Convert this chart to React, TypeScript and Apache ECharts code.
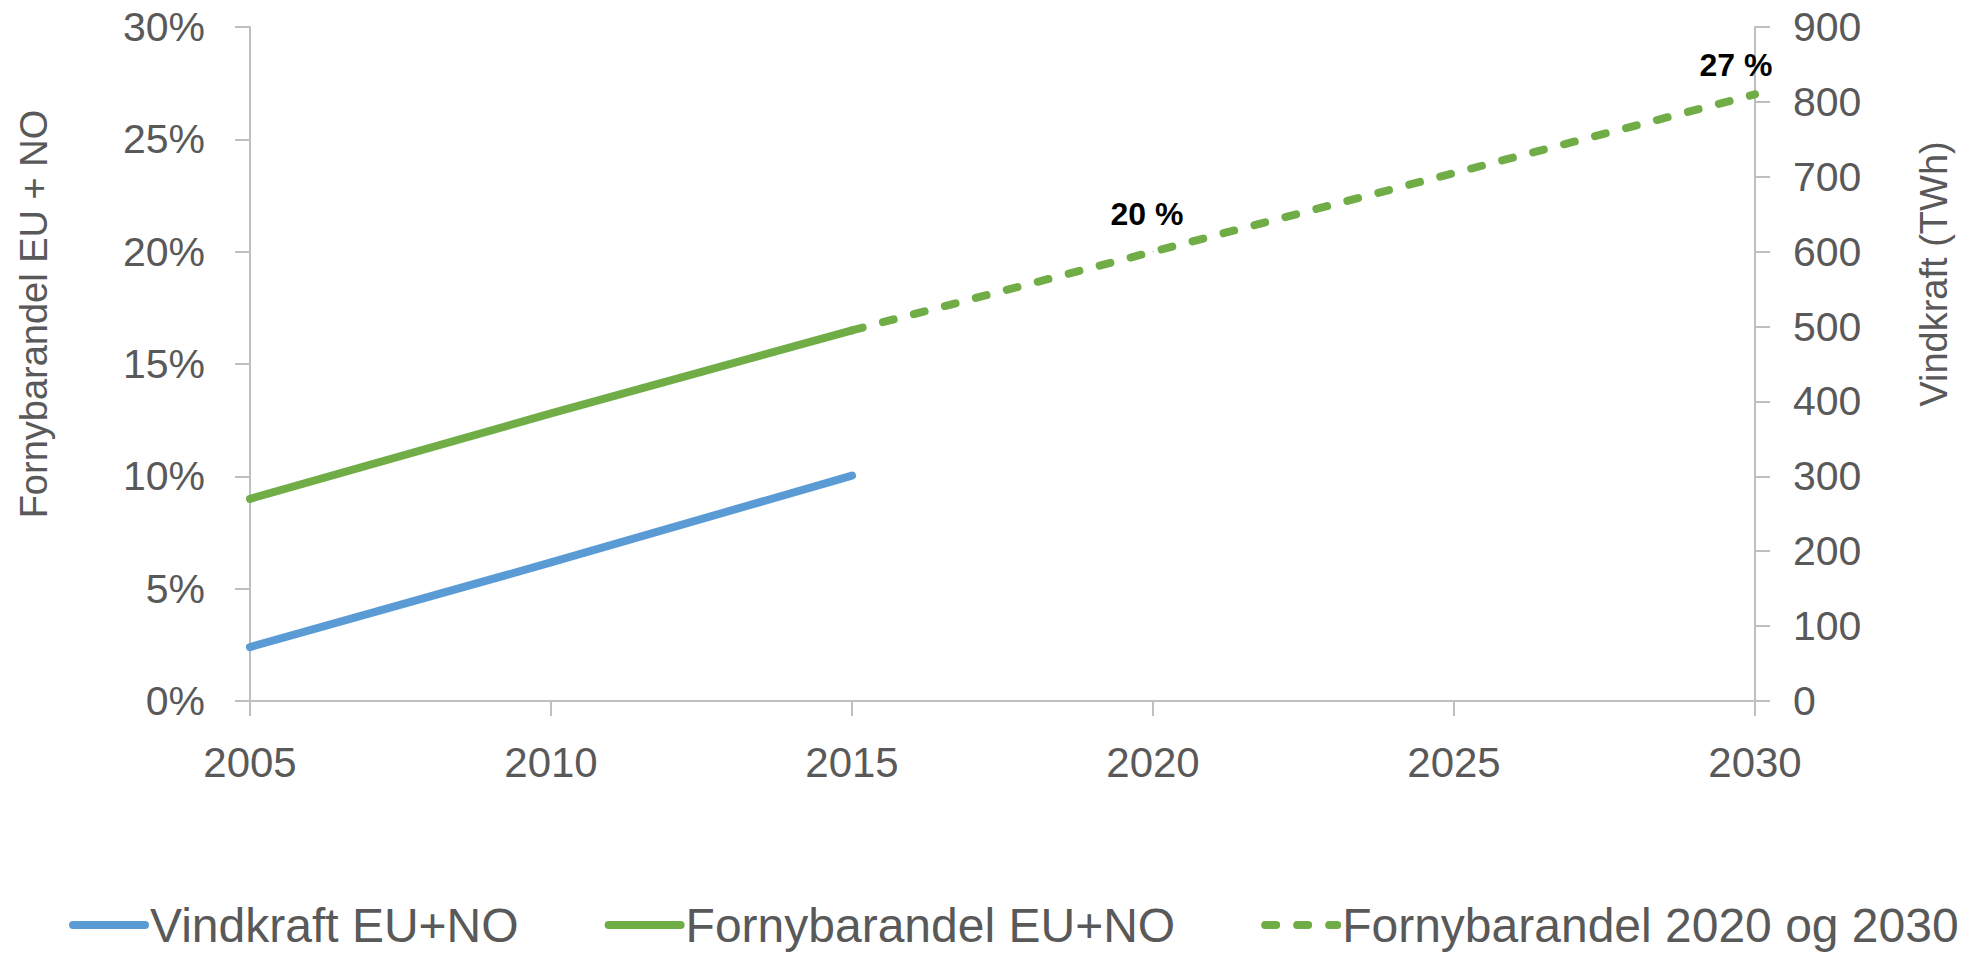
import React, { useEffect, useRef } from "react";
import * as echarts from "echarts";

const FONT = "'Liberation Sans', Arial, sans-serif";

const leftAxisTitle = "Fornybarandel EU + NO";
const rightAxisTitle = "Vindkraft (TWh)";

const seriesNames = [
  "Vindkraft EU+NO",
  "Fornybarandel EU+NO",
  "Fornybarandel 2020 og 2030",
];

// Vindkraft (TWh), right axis
const windYears = [2005, 2010, 2015];
const windTWh = [72, 185, 301];

// Fornybarandel (%), left axis
const shareYears = [2005, 2010, 2015];
const sharePct = [9.0, 12.8, 16.5];

// Targets (%), left axis
const targetYears = [2015, 2020, 2030];
const targetPct = [16.5, 20, 27];
const targetLabels = ["", "20 %", "27 %"];

const xTicks = { min: 2005, max: 2030, interval: 5 };
const leftTicks = { min: 0, max: 30, interval: 5 };
const rightTicks = { min: 0, max: 900, interval: 100 };

const BLUE = "#5B9BD5";
const GREEN = "#70AD47";
const AXIS = "#BFBFBF";
const TEXT = "#595959";

export default function App() {
  const ref = useRef<HTMLDivElement>(null);

  useEffect(() => {
    if (!ref.current) return;
    const chart = echarts.init(ref.current, null, { renderer: "svg" });

    const axisCommon = {
      axisLine: { show: true, lineStyle: { color: AXIS, width: 2 } },
      axisTick: { show: true, inside: false, length: 15, lineStyle: { color: AXIS, width: 2 } },
      splitLine: { show: false },
    };

    const labelOffsets: Record<string, { distance: number; offset: number[] }> = {
      "20 %": { distance: 21, offset: [-6, 0] },
      "27 %": { distance: 13, offset: [-19, 0] },
    };

    chart.setOption({
      animation: false,
      backgroundColor: "#ffffff",
      textStyle: { fontFamily: FONT },
      grid: { left: 250, right: 217, top: 27, bottom: 252, containLabel: false },
      xAxis: {
        type: "value",
        min: xTicks.min,
        max: xTicks.max,
        interval: xTicks.interval,
        ...axisCommon,
        axisLabel: {
          color: TEXT,
          fontSize: 42,
          fontFamily: FONT,
          margin: 40,
          formatter: (v: number) => String(v),
        },
      },
      yAxis: [
        {
          type: "value",
          position: "left",
          min: leftTicks.min,
          max: leftTicks.max,
          interval: leftTicks.interval,
          ...axisCommon,
          axisLabel: {
            color: TEXT,
            fontSize: 41,
            fontFamily: FONT,
            margin: 45,
            formatter: "{value}%",
          },
        },
        {
          type: "value",
          position: "right",
          min: rightTicks.min,
          max: rightTicks.max,
          interval: rightTicks.interval,
          ...axisCommon,
          axisLabel: {
            color: TEXT,
            fontSize: 41,
            fontFamily: FONT,
            margin: 38,
          },
        },
      ],
      legend: {
        left: 64,
        top: 896,
        itemWidth: 72,
        itemHeight: 14,
        itemGap: 86,
        textStyle: { color: TEXT, fontSize: 48, fontFamily: FONT },
        lineStyle: { width: 8, cap: "round" },
        itemStyle: { opacity: 0 },
        data: seriesNames,
      },
      graphic: [
        {
          type: "text",
          x: 34,
          y: 314,
          rotation: Math.PI / 2,
          style: {
            text: leftAxisTitle,
            fill: TEXT,
            font: `38px ${FONT}`,
            align: "center",
            verticalAlign: "middle",
          },
        },
        {
          type: "text",
          x: 1934,
          y: 274,
          rotation: Math.PI / 2,
          style: {
            text: rightAxisTitle,
            fill: TEXT,
            font: `38px ${FONT}`,
            align: "center",
            verticalAlign: "middle",
          },
        },
      ],
      series: [
        {
          name: seriesNames[0],
          type: "line",
          yAxisIndex: 1,
          symbol: "none",
          data: windYears.map((y, i) => [y, windTWh[i]]),
          lineStyle: { color: BLUE, width: 8, cap: "round", join: "round" },
          itemStyle: { color: BLUE },
        },
        {
          name: seriesNames[1],
          type: "line",
          yAxisIndex: 0,
          symbol: "none",
          data: shareYears.map((y, i) => [y, sharePct[i]]),
          lineStyle: { color: GREEN, width: 8, cap: "round", join: "round" },
          itemStyle: { color: GREEN },
        },
        {
          name: seriesNames[2],
          type: "line",
          yAxisIndex: 0,
          symbol: "circle",
          symbolSize: 1,
          showSymbol: true,
          data: targetYears.map((y, i) => {
            const txt = targetLabels[i];
            const item: any = { value: [y, targetPct[i]] };
            if (txt) {
              const o = labelOffsets[txt];
              item.label = {
                show: true,
                position: "top",
                distance: o.distance,
                offset: o.offset,
                formatter: txt,
                color: "#000000",
                fontSize: 32,
                fontWeight: "bold",
                fontFamily: FONT,
              };
            }
            return item;
          }),
          lineStyle: { color: GREEN, width: 8, type: [11, 21], cap: "round", join: "round" },
          itemStyle: { color: GREEN },
        },
      ],
    });

    return () => chart.dispose();
  }, []);

  return (
    <div
      ref={ref}
      style={{ position: "absolute", left: 0, top: 0, width: 1972, height: 953 }}
    />
  );
}
